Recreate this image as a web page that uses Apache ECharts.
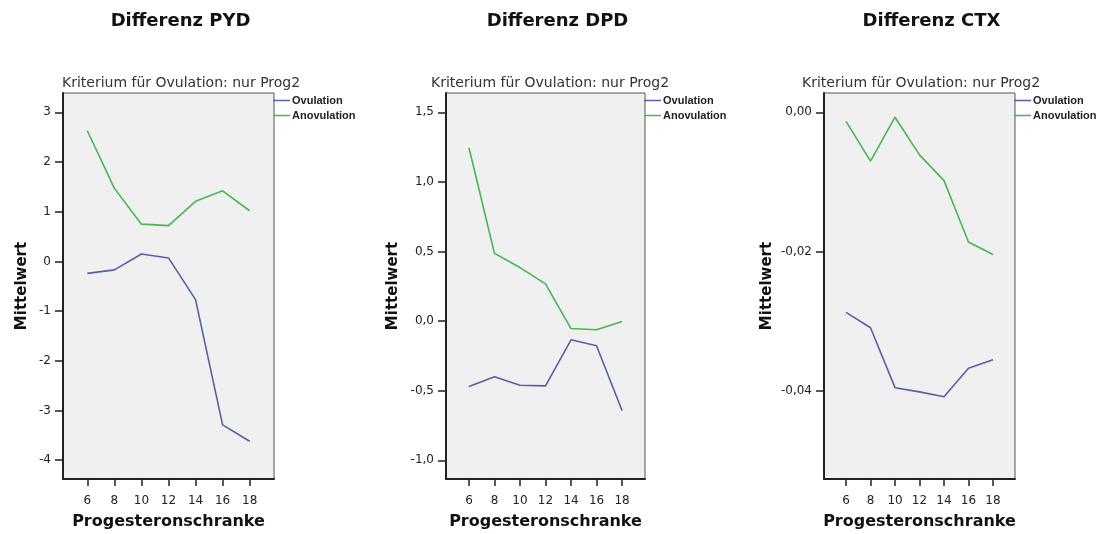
<!DOCTYPE html>
<html>
<head>
<meta charset="utf-8">
<script src="https://cdn.jsdelivr.net/npm/echarts@6/dist/echarts.min.js"></script>
<style>
html,body{margin:0;padding:0;background:#fff;}
#c{width:1104px;height:534px;}
</style>
</head>
<body>
<div id="c"></div>
<script>
// ---- data ----
const xValues = [6, 8, 10, 12, 14, 16, 18];
const seriesNames = ['Ovulation', 'Anovulation'];
const panelTitles = ['Differenz PYD', 'Differenz DPD', 'Differenz CTX'];
const subTitle = 'Kriterium für Ovulation: nur Prog2';
const xAxisName = 'Progesteronschranke';
const yAxisName = 'Mittelwert';

const pydOvulation   = [-0.24, -0.17, 0.15, 0.07, -0.77, -3.29, -3.62];
const pydAnovulation = [2.63, 1.47, 0.75, 0.72, 1.21, 1.42, 1.02];
const dpdOvulation   = [-0.47, -0.40, -0.46, -0.465, -0.134, -0.177, -0.642];
const dpdAnovulation = [1.246, 0.487, 0.385, 0.268, -0.053, -0.062, -0.003];
const ctxOvulation   = [-0.0287, -0.0309, -0.0395, -0.0401, -0.0408, -0.0367, -0.0355];
const ctxAnovulation = [-0.0013, -0.0070, -0.0007, -0.0061, -0.0098, -0.0186, -0.0204];

const yTicksPYD = [-4, -3, -2, -1, 0, 1, 2, 3];
const yTicksDPD = [-1.0, -0.5, 0.0, 0.5, 1.0, 1.5];
const yTicksCTX = [-0.04, -0.02, 0.00];
const yDecimals = [0, 1, 2];

// ---- layout ----
const panels = [
  {left: 63,  right: 274,  yMin: -4.38,  yMax: 3.39,    ticks: yTicksPYD, ov: pydOvulation, an: pydAnovulation, yGap: 33},
  {left: 446, right: 645,  yMin: -1.134, yMax: 1.639,   ticks: yTicksDPD, ov: dpdOvulation, an: dpdAnovulation, yGap: 45},
  {left: 824, right: 1015, yMin: -0.0526, yMax: 0.00277, ticks: yTicksCTX, ov: ctxOvulation, an: ctxAnovulation, yGap: 49}
];
const gridTop = 93, gridBottom = 479;
const colors = {Ovulation: '#5661a6', Anovulation: '#45b84f'};

const grids = [], xAxes = [], yAxes = [], series = [], legends = [], graphics = [];
panels.forEach((p, i) => {
  grids.push({
    left: p.left, top: gridTop, width: p.right - p.left, height: gridBottom - gridTop,
    outerBoundsMode: 'none', containLabel: false,
    show: true, backgroundColor: '#f0f0f0', borderColor: '#555', borderWidth: 1
  });
  xAxes.push({
    type: 'value', gridIndex: i, min: 4.2, max: 19.8,
    name: xAxisName, nameLocation: 'middle', nameGap: 35, nameMoveOverlap: false,
    nameTextStyle: {fontFamily: 'DejaVu Sans', fontWeight: 'bold', fontSize: 16, color: '#111'},
    axisLine: {show: true, onZero: false, lineStyle: {color: '#222', width: 2}},
    axisTick: {show: true, length: 7, customValues: xValues, lineStyle: {color: '#222', width: 1.5}},
    axisLabel: {show: true, customValues: xValues, margin: 16, fontFamily: 'DejaVu Sans', fontSize: 12, color: '#222'},
    splitLine: {show: false}
  });
  const dec = yDecimals[i];
  yAxes.push({
    type: 'value', gridIndex: i, min: p.yMin, max: p.yMax,
    name: yAxisName, nameLocation: 'middle', nameGap: p.yGap, nameRotate: 90, nameMoveOverlap: false,
    nameTextStyle: {fontFamily: 'DejaVu Sans', fontWeight: 'bold', fontSize: 15, color: '#111'},
    axisLine: {show: true, onZero: false, lineStyle: {color: '#222', width: 2}},
    axisTick: {show: true, length: 8, customValues: p.ticks, lineStyle: {color: '#222', width: 1.5}},
    axisLabel: {show: true, customValues: p.ticks, margin: 12, fontFamily: 'DejaVu Sans', fontSize: 12, color: '#222',
      formatter: v => (Math.abs(v) < 1e-9 ? 0 : v).toFixed(dec).replace('.', ',')},
    splitLine: {show: false}
  });
  [['Ovulation', p.ov], ['Anovulation', p.an]].forEach(([name, vals]) => {
    series.push({
      type: 'line', name: name, xAxisIndex: i, yAxisIndex: i,
      data: xValues.map((x, k) => [x, vals[k]]),
      symbol: 'none', lineStyle: {color: colors[name], width: 1.6}, itemStyle: {color: colors[name]},
      silent: true, animation: false
    });
  });
  legends.push({
    data: seriesNames, orient: 'vertical', left: p.right - 1, top: 94,
    icon: 'rect', itemWidth: 17, itemHeight: 1.5, itemGap: 2, padding: 0,
    textStyle: {fontFamily: 'Liberation Sans', fontWeight: 'bold', fontSize: 11, color: '#222', lineHeight: 13, padding: [0,0,0,-3]},
    selectedMode: false
  });
  const cx = (p.left + p.right) / 2 + 12;
  graphics.push({
    type: 'text', x: cx, y: 21.5,
    style: {text: panelTitles[i], font: 'bold 18px "DejaVu Sans"', fill: '#111', textAlign: 'center', textVerticalAlign: 'middle'}
  });
  graphics.push({
    type: 'text', x: p.left - 1 - (i === 0 ? 0 : (i === 1 ? 14 : 21)), y: 83,
    style: {text: subTitle, font: '14px "DejaVu Sans"', fill: '#333', textAlign: 'left', textVerticalAlign: 'middle'}
  });
});

const chart = echarts.init(document.getElementById('c'), null, {renderer: 'canvas'});
chart.setOption({
  animation: false,
  backgroundColor: '#fff',
  grid: grids, xAxis: xAxes, yAxis: yAxes, series: series, legend: legends,
  graphic: graphics
});
</script>
</body>
</html>
